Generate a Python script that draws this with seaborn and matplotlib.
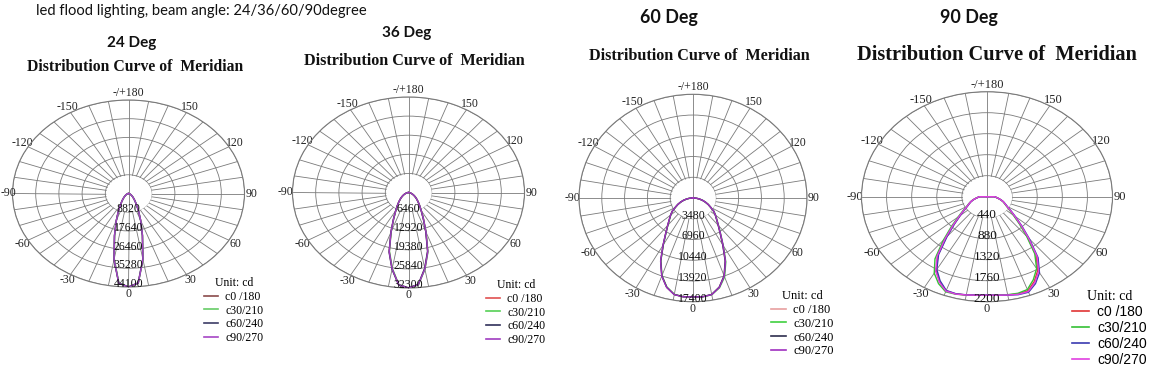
import numpy as np
import pandas as pd
import matplotlib
matplotlib.use("Agg")
import matplotlib.pyplot as plt
import seaborn as sns
from matplotlib.lines import Line2D

W, H = 1169, 369

# -----------------------------
# Data
# -----------------------------

angles = [-180, -90, -85, -80, -75, -70, -65, -60, -55, -50, -45, -40, -35,
          -30, -25, -20, -15, -10, -5, 0, 5, 10, 15, 20, 25, 30, 35, 40, 45,
          50, 55, 60, 65, 70, 75, 80, 85, 90, 180]
series_names = ["c0 /180", "c30/210", "c60/240", "c90/270"]

theta_labels = {0: "0", 30: "30", 60: "60", 90: "90", 120: "120", 150: "150",
                180: "-/+180", 210: "-150", 240: "-120", 270: "-90",
                300: "-60", 330: "-30"}

# 24 Deg
rings_24 = [8820, 17640, 26460, 35280, 44100]
deg24_c0 = [0, 0, 80, 180, 300, 450, 650, 900, 1250, 1700, 2300, 3100, 4300,
            6000, 9000, 13500, 20500, 31500, 42400, 44100, 42400, 31500, 20500,
            13500, 9000, 6000, 4300, 3100, 2300, 1700, 1250, 900, 650, 450,
            300, 180, 80, 0, 0]
deg24_c30 = [0, 0, 80, 178, 297, 446, 644, 891, 1240, 1680, 2280, 3070, 4260,
             5940, 8900, 13400, 20300, 31200, 42200, 44100, 42500, 31800, 20700,
             13600, 9100, 6060, 4340, 3130, 2320, 1720, 1260, 910, 655, 455,
             303, 182, 81, 0, 0]
deg24_c60 = [0, 0, 80, 182, 303, 455, 655, 910, 1260, 1720, 2320, 3130, 4340,
             6060, 9100, 13600, 20700, 31800, 42500, 44050, 42300, 31300, 20300,
             13400, 8900, 5940, 4260, 3070, 2280, 1680, 1240, 891, 644, 446,
             297, 178, 80, 0, 0]
deg24_c90 = [0, 0, 80, 180, 300, 450, 650, 900, 1250, 1700, 2300, 3100, 4300,
             6000, 9050, 13550, 20600, 31600, 42450, 44100, 42450, 31600, 20600,
             13550, 9050, 6000, 4300, 3100, 2300, 1700, 1250, 900, 650, 450,
             300, 180, 80, 0, 0]

# 36 Deg
rings_36 = [6460, 12920, 19380, 25840, 32300]
deg36_c0 = [0, 0, 100, 260, 480, 750, 1100, 1500, 2000, 2600, 3300, 4200, 5400,
            7100, 9800, 14200, 20700, 26200, 31300, 32300, 31300, 26200, 20700,
            14200, 9800, 7100, 5400, 4200, 3300, 2600, 2000, 1500, 1100, 750,
            480, 260, 100, 0, 0]
deg36_c30 = [0, 0, 98, 256, 474, 742, 1090, 1485, 1980, 2575, 3270, 4160, 5350,
             7030, 9700, 14050, 20500, 26000, 31200, 32300, 31400, 26400, 20900,
             14350, 9900, 7170, 5450, 4240, 3330, 2625, 2020, 1515, 1110, 758,
             485, 263, 101, 0, 0]
deg36_c60 = [0, 0, 101, 263, 485, 758, 1110, 1515, 2020, 2625, 3330, 4240, 5450,
             7170, 9900, 14350, 20900, 26400, 31400, 32250, 31200, 26000, 20500,
             14050, 9700, 7030, 5350, 4160, 3270, 2575, 1980, 1485, 1090, 742,
             474, 256, 98, 0, 0]
deg36_c90 = [0, 0, 100, 260, 480, 750, 1100, 1500, 2000, 2600, 3300, 4200, 5400,
             7100, 9850, 14250, 20750, 26250, 31300, 32300, 31300, 26250, 20750,
             14250, 9850, 7100, 5400, 4200, 3300, 2600, 2000, 1500, 1100, 750,
             480, 260, 100, 0, 0]

# 60 Deg
rings_60 = [3480, 6960, 10440, 13920, 17400]
deg60_c0 = [0, 200, 550, 1000, 1500, 2000, 2550, 3100, 3850, 4450, 5100, 6000,
            7250, 9100, 11650, 13900, 15500, 16450, 16650, 16600, 16650, 16450,
            15500, 13900, 11650, 9100, 7250, 6000, 5100, 4450, 3850, 3100, 2550,
            2000, 1500, 1000, 550, 200, 0]
deg60_c30 = [0, 198, 545, 990, 1490, 1985, 2530, 3080, 3820, 4420, 5070, 5960,
             7200, 9050, 11600, 13850, 15450, 16420, 16640, 16600, 16660, 16480,
             15600, 14100, 11850, 9250, 7350, 6080, 5170, 4510, 3900, 3140,
             2580, 2020, 1515, 1010, 555, 202, 0]
deg60_c60 = [0, 199, 552, 1005, 1505, 2010, 2560, 3110, 3860, 4460, 5110, 6010,
             7260, 9120, 11680, 13920, 15510, 16450, 16640, 16580, 16630, 16430,
             15480, 13880, 11620, 9080, 7240, 5990, 5090, 4440, 3840, 3090,
             2540, 1990, 1495, 995, 548, 199, 0]
deg60_c90 = [0, 202, 555, 1010, 1510, 2015, 2570, 3120, 3870, 4470, 5120, 6020,
             7280, 9150, 11700, 13950, 15530, 16460, 16650, 16600, 16650, 16460,
             15530, 13950, 11720, 9180, 7300, 6030, 5120, 4470, 3870, 3120,
             2570, 2015, 1510, 1010, 555, 202, 0]

# 90 Deg
rings_90 = [440, 880, 1320, 1760, 2200]
deg90_c0 = [0, 130, 160, 200, 250, 300, 345, 400, 490, 620, 820, 1110, 1500,
            1780, 1960, 2100, 2110, 2090, 2070, 2060, 2070, 2090, 2110, 2100,
            1960, 1780, 1500, 1110, 820, 620, 490, 400, 345, 300, 250, 200,
            160, 130, 0]
deg90_c30 = [0, 129, 160, 202, 254, 306, 355, 415, 515, 660, 880, 1190, 1590,
             1850, 2010, 2120, 2115, 2092, 2072, 2060, 2068, 2085, 2095, 2070,
             1920, 1740, 1460, 1080, 800, 605, 480, 395, 340, 297, 248, 198,
             159, 129, 0]
deg90_c60 = [0, 131, 158, 198, 247, 296, 340, 395, 485, 610, 805, 1090, 1480,
             1760, 1945, 2090, 2105, 2088, 2068, 2058, 2072, 2095, 2125, 2130,
             2010, 1840, 1560, 1160, 860, 650, 510, 412, 352, 305, 253, 202,
             161, 131, 0]
deg90_c90 = [0, 131, 161, 201, 251, 302, 348, 405, 498, 632, 838, 1135, 1525,
             1800, 1975, 2105, 2112, 2091, 2071, 2062, 2071, 2092, 2118, 2115,
             1985, 1810, 1530, 1135, 840, 635, 500, 405, 348, 302, 251, 201,
             161, 131, 0]

# -----------------------------
# Layout (pixel positions)
# -----------------------------

charts = [
    dict(center=(128.5, 193.5), radii=(116, 93.5), rings=rings_24,
         values=[deg24_c0, deg24_c30, deg24_c60, deg24_c90],
         colors=["#8a4a4a", "#66cc66", "#3c3c66", "#a545c5"],
         deg="24 Deg", deg_xy=(131.5, 43.5), deg_size=11,
         title_xy=(135, 67), title_size=11.3,
         leg_xy=(204, 277), leg_size=8.5, leg_sans=False,
         ring_size=8.5, tick_size=8.5),
    dict(center=(408.5, 192.5), radii=(116, 95.5), rings=rings_36,
         values=[deg36_c0, deg36_c30, deg36_c60, deg36_c90],
         colors=["#e05050", "#55d055", "#30305a", "#a03cc0"],
         deg="36 Deg", deg_xy=(407, 33), deg_size=11,
         title_xy=(414, 61), title_size=11.6,
         leg_xy=(486, 279), leg_size=8.5, leg_sans=False,
         ring_size=8.5, tick_size=8.5),
    dict(center=(693, 198), radii=(114, 103.7), rings=rings_60,
         values=[deg60_c0, deg60_c30, deg60_c60, deg60_c90],
         colors=["#e8a0a0", "#40d040", "#2e2e4e", "#a030c0"],
         deg="60 Deg", deg_xy=(669, 17.5), deg_size=12.9,
         title_xy=(699.5, 56.5), title_size=11.6,
         leg_xy=(771, 290), leg_size=9, leg_sans=False,
         ring_size=8.5, tick_size=8.5),
    dict(center=(987, 196.7), radii=(125.5, 105), rings=rings_90,
         values=[deg90_c0, deg90_c30, deg90_c60, deg90_c90],
         colors=["#e03535", "#35c035", "#3a3ab0", "#e040e0"],
         deg="90 Deg", deg_xy=(969, 17.5), deg_size=12.9,
         title_xy=(996.5, 55), title_size=14.7,
         leg_xy=(1072, 290), leg_size=10, leg_sans=True,
         ring_size=9.5, tick_size=9),
]

SERIF = "Liberation Serif"
GRID = "#7a7a7a"


def fx(x):
    return x / W


def fy(y):
    return 1 - y / H


fig = plt.figure(figsize=(W / 100, H / 100), dpi=100)

fig.text(fx(36), fy(11), "led flood lighting, beam angle: 24/36/60/90degree",
         family="Lato", fontsize=10.6, va="center", ha="left", color="#111111")

theta_ticks = np.deg2rad(np.arange(0, 360, 10))

for i, ch in enumerate(charts):
    cx, cy = ch["center"]
    rx, ry = ch["radii"]
    rings = ch["rings"]
    rmax = rings[-1]

    ax = fig.add_axes([fx(cx - rx), fy(cy + ry), 2 * rx / W, 2 * ry / H],
                      projection="polar")
    ax.set_aspect("auto")
    ax.set_theta_zero_location("S")
    ax.set_theta_direction(1)

    for v in ch["values"]:
        assert len(v) == len(angles)
    df = pd.DataFrame({
        "theta": np.tile(np.deg2rad(angles), len(series_names)),
        "cd": np.concatenate(ch["values"]),
        "series": np.repeat(series_names, len(angles)),
    })
    sns.lineplot(data=df, x="theta", y="cd", hue="series",
                 hue_order=series_names, palette=ch["colors"],
                 sort=False, estimator=None, legend=False,
                 linewidth=1.0, ax=ax, zorder=3)

    labels = dict(theta_labels)
    if i == 0:
        # the left label of the first chart sits against the picture edge
        labels[270] = ""
        fig.text(fx(0.5), fy(193.5), "-90", family=SERIF,
                 fontsize=ch["tick_size"], ha="left", va="center",
                 color="#222222")

    ax.set_ylim(0, rmax)
    ax.set_yticks(rings)
    ax.set_yticklabels([])
    ax.set_xticks(theta_ticks)
    ax.set_xticklabels([labels.get(d, "") for d in range(0, 360, 10)],
                       family=SERIF, fontsize=ch["tick_size"],
                       color="#222222")
    ax.tick_params(axis="x", pad=-5.5)
    ax.grid(True, color=GRID, linewidth=0.6)
    ax.spines["polar"].set_color(GRID)
    ax.spines["polar"].set_linewidth(0.8)
    ax.set_xlabel("")
    ax.set_ylabel("")

    # blank centre hole, with the vertical axis line through it
    tt = np.linspace(0, 2 * np.pi, 240)
    ax.fill_between(tt, 0, rings[0] * 0.98, color="white", zorder=1.8,
                    linewidth=0)
    ax.plot([0, 0], [0, rings[0]], color=GRID, linewidth=0.6, zorder=1.9)
    ax.plot([np.pi, np.pi], [0, rings[0]], color=GRID, linewidth=0.6,
            zorder=1.9)

    for r in rings:
        ax.text(0, r, str(r), ha="center", va="baseline", family=SERIF,
                fontsize=ch["ring_size"], color="#111111", zorder=4)

    fig.text(fx(ch["deg_xy"][0]), fy(ch["deg_xy"][1]), ch["deg"],
             family="Lato", fontweight="bold", fontsize=ch["deg_size"],
             ha="center", va="center", color="#111111")
    fig.text(fx(ch["title_xy"][0]), fy(ch["title_xy"][1]),
             "Distribution Curve of  Meridian", family=SERIF,
             fontweight="bold", fontsize=ch["title_size"],
             ha="center", va="center", color="#111111")

    handles = [Line2D([], [], color=c, linewidth=1.2) for c in ch["colors"]]
    leg_family = "Liberation Sans" if ch["leg_sans"] else SERIF
    ax.legend(handles, series_names, title="Unit: cd",
              loc="upper left",
              bbox_to_anchor=(fx(ch["leg_xy"][0]), fy(ch["leg_xy"][1])),
              bbox_transform=fig.transFigure, frameon=False,
              prop={"family": leg_family, "size": ch["leg_size"]},
              title_fontproperties={"family": SERIF, "size": ch["leg_size"]},
              handlelength=1.2, handletextpad=0.6, labelspacing=0.15,
              borderpad=0, borderaxespad=0)

fig.savefig("out.png", dpi=100)
